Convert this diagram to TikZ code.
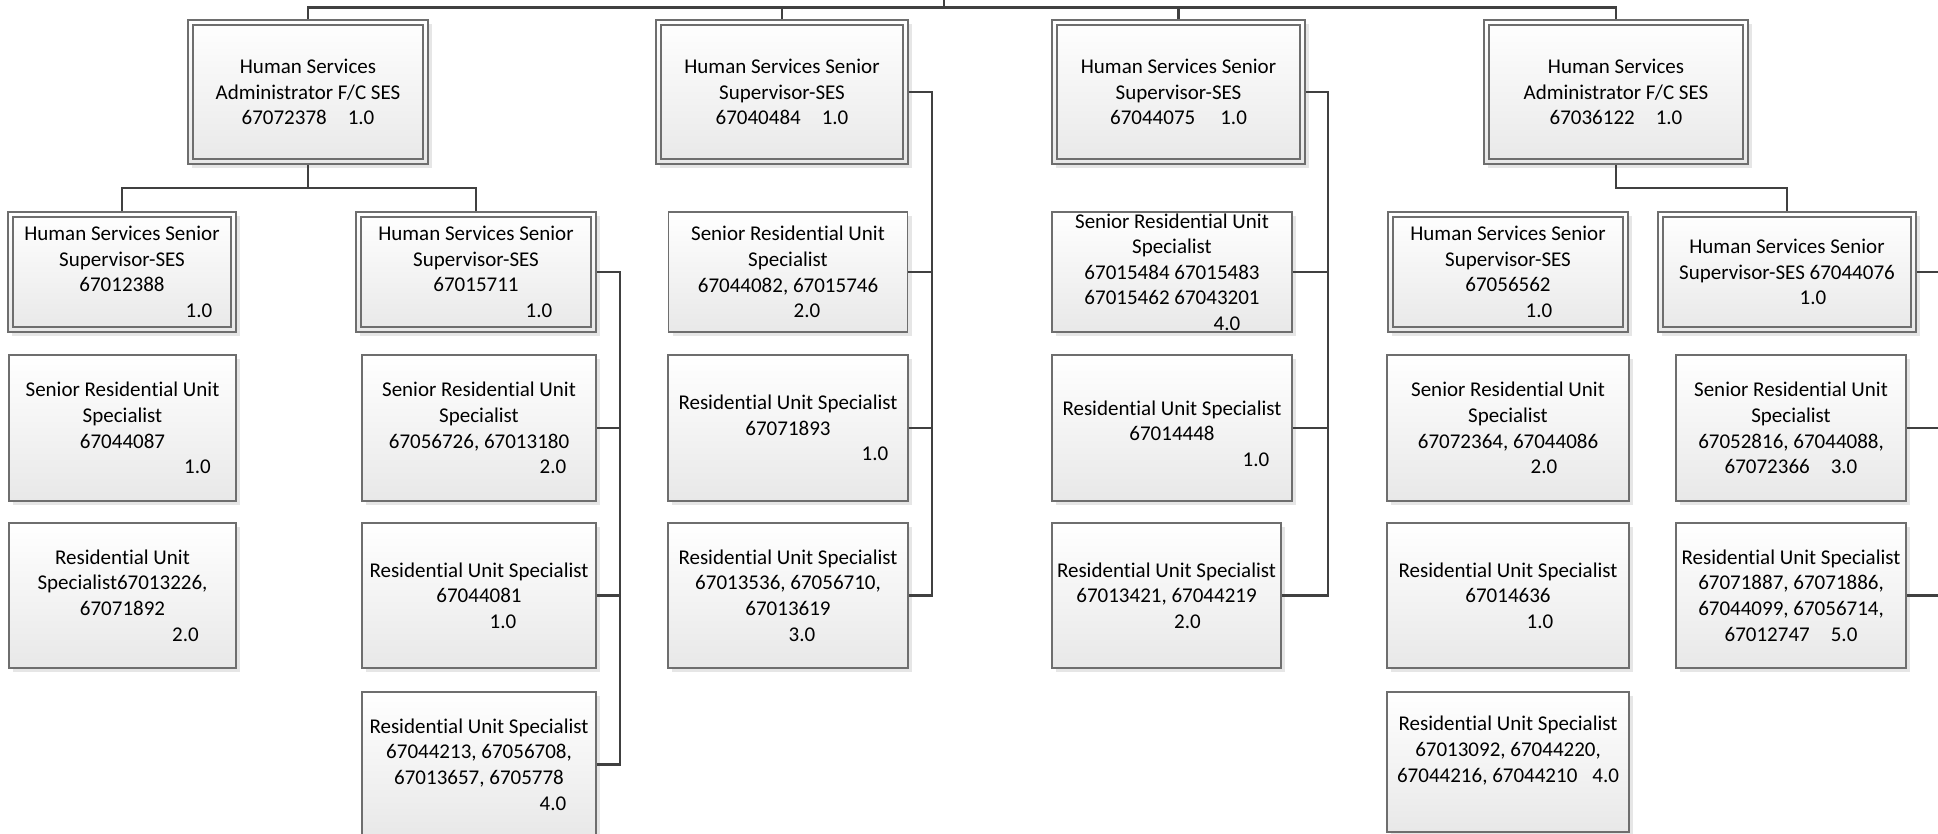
\documentclass[tikz,border=0pt]{standalone}
\usepackage{fontspec}
\setmainfont{Carlito}[Ligatures=NoCommon]
\usetikzlibrary{shadows,calc}
\definecolor{boxgray}{HTML}{6E6E6E}
\definecolor{linegray}{HTML}{404040}
\definecolor{boxbot}{HTML}{E8E8E8}
\definecolor{shadowgray}{HTML}{E6E6E6}
\tikzset{
  orgbox/.style={rectangle, draw=boxgray, line width=1.2pt, top color=white, bottom color=boxbot,
    inner sep=0pt, align=center, font=\fontsize{21}{25.6}\selectfont,
    general shadow={fill=shadowgray, shadow xshift=4pt, shadow yshift=-4pt}},
  dblbox/.style={orgbox, path picture={\draw[boxgray, line width=1.2pt]
    ([shift={(5pt,-5pt)}]path picture bounding box.north west) rectangle
    ([shift={(-5pt,5pt)}]path picture bounding box.south east);}},
  conn/.style={draw=linegray, line width=2.9pt},
}
\begin{document}
\begin{tikzpicture}[x=1pt,y=-1pt]
\useasboundingbox (0,0) rectangle (1938,834);
\clip (0,0) rectangle (1938,834);
% row 1
\node[dblbox, minimum width=240pt, minimum height=144pt] (A1) at (308,92) {Human Services\\Administrator F/C SES\\67072378\quad 1.0};
\node[dblbox, minimum width=252pt, minimum height=144pt] (A2) at (782,92) {Human Services Senior\\Supervisor-SES\\67040484\quad 1.0};
\node[dblbox, minimum width=253pt, minimum height=144pt] (A3) at (1178.5,92) {Human Services Senior\\Supervisor-SES\\67044075\hspace{25pt}1.0};
\node[dblbox, minimum width=264pt, minimum height=144pt] (A4) at (1616,92) {Human Services\\Administrator F/C SES\\67036122\quad 1.0};
% row 2
\node[dblbox, minimum width=228pt, minimum height=120pt] (B1) at (122,272) {Human Services Senior\\Supervisor-SES\\67012388\\\hspace*{154pt}1.0};
\node[dblbox, minimum width=240pt, minimum height=120pt] (B2) at (476,272) {Human Services Senior\\Supervisor-SES\\67015711\\\hspace*{126pt}1.0};
\node[orgbox, minimum width=239pt, minimum height=120pt] (D1) at (788,272) {Senior Residential Unit\\Specialist\\67044082, 67015746\\\hspace*{38pt}2.0};
\node[orgbox, minimum width=240pt, minimum height=120pt] (E1) at (1172,272) {Senior Residential Unit\\Specialist\\67015484 67015483\\67015462 67043201\\\hspace*{110pt}4.0};
\node[dblbox, minimum width=240pt, minimum height=120pt] (B3) at (1508,272) {Human Services Senior\\Supervisor-SES\\67056562\\\hspace*{62pt}1.0};
\node[dblbox, minimum width=258pt, minimum height=120pt] (B4) at (1787,272) {Human Services Senior\\Supervisor-SES 67044076\\\hspace*{52pt}1.0};
% row 3
\node[orgbox, minimum width=227pt, minimum height=146pt] (C1) at (122.5,428) {Senior Residential Unit\\Specialist\\67044087\\\hspace*{150pt}1.0};
\node[orgbox, minimum width=234pt, minimum height=146pt] (C3) at (479,428) {Senior Residential Unit\\Specialist\\67056726, 67013180\\\hspace*{148pt}2.0};
\node[orgbox, minimum width=240pt, minimum height=146pt] (D2) at (788,428) {Residential Unit Specialist\\67071893\\\hspace*{174pt}1.0};
\node[orgbox, minimum width=240pt, minimum height=146pt] (E2) at (1172,428) {\mbox{}\\Residential Unit Specialist\\67014448\\\hspace*{168pt}1.0};
\node[orgbox, minimum width=242pt, minimum height=146pt] (F1) at (1508,428) {Senior Residential Unit\\Specialist\\67072364, 67044086\\\hspace*{72pt}2.0};
\node[orgbox, minimum width=230pt, minimum height=146pt] (G1) at (1791,428) {Senior Residential Unit\\Specialist\\67052816, 67044088,\\67072366\quad 3.0};
% row 4
\node[orgbox, minimum width=227pt, minimum height=145pt] (C2) at (122.5,595.5) {Residential Unit\\Specialist67013226,\\67071892\\\hspace*{126pt}2.0};
\node[orgbox, minimum width=234pt, minimum height=145pt] (C4) at (479,595.5) {Residential Unit Specialist\\67044081\\\hspace*{48pt}1.0};
\node[orgbox, minimum width=240pt, minimum height=145pt] (D3) at (788,595.5) {Residential Unit Specialist\\67013536, 67056710,\\67013619\\\hspace*{28pt}3.0};
\node[orgbox, minimum width=229pt, minimum height=145pt] (E3) at (1166.5,595.5) {Residential Unit Specialist\\67013421, 67044219\\\hspace*{42pt}2.0};
\node[orgbox, minimum width=242pt, minimum height=145pt] (F2) at (1508,595.5) {Residential Unit Specialist\\67014636\\\hspace*{64pt}1.0};
\node[orgbox, minimum width=230pt, minimum height=145pt] (G2) at (1791,595.5) {Residential Unit Specialist\\67071887, 67071886,\\67044099, 67056714,\\67012747\quad 5.0};
% row 5
\node[orgbox, minimum width=234pt, minimum height=145pt] (C5) at (479,764.5) {Residential Unit Specialist\\67044213, 67056708,\\67013657, 6705778\\\hspace*{148pt}4.0};
\node[orgbox, minimum width=242pt, minimum height=140pt] (F3) at (1508,762) {Residential Unit Specialist\\67013092, 67044220,\\67044216, 67044210\hspace{15pt}4.0\\\mbox{}};
% connectors
\coordinate (root) at (944,-10);
\coordinate (bar) at (944,7.5);
\draw[conn] (root) -- (bar);
\draw[conn] (A1.north) |- (bar) -| (A4.north);
\draw[conn] (A2.north) -- (A2.north |- bar);
\draw[conn] (A3.north) -- (A3.north |- bar);
\coordinate (j1) at (308,188);
\draw[conn] (A1.south) -- (j1);
\draw[conn] (B1.north) |- (j1) -| (B2.north);
\coordinate (j4) at (1616,188);
\draw[conn] (A4.south) -- (j4) -| (B4.north);
\coordinate (v1) at (620,0);
\draw[conn] (B2.east) -- (B2.east -| v1) |- (C5.east);
\draw[conn] (C3.east) -- (C3.east -| v1);
\draw[conn] (C4.east) -- (C4.east -| v1);
\coordinate (v2) at (932,0);
\draw[conn] (A2.east) -- (A2.east -| v2) |- (D3.east);
\draw[conn] (D1.east) -- (D1.east -| v2);
\draw[conn] (D2.east) -- (D2.east -| v2);
\coordinate (v3) at (1328,0);
\draw[conn] (A3.east) -- (A3.east -| v3) |- (E3.east);
\draw[conn] (E1.east) -- (E1.east -| v3);
\draw[conn] (E2.east) -- (E2.east -| v3);
\coordinate (v4) at (1950,0);
\draw[conn] (B4.east) -- (B4.east -| v4) |- (G2.east);
\draw[conn] (G1.east) -- (G1.east -| v4);
\end{tikzpicture}
\end{document}
